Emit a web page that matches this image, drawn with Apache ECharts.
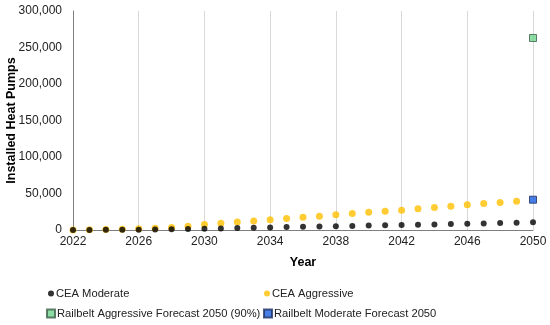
<!DOCTYPE html>
<html><head><meta charset="utf-8">
<script src="https://cdn.jsdelivr.net/npm/echarts@6/dist/echarts.min.js"></script>
<style>html,body{margin:0;padding:0;background:#fff}#c{width:550px;height:325px}</style>
</head><body><div id="c"></div>
<script>
const years = [2022,2023,2024,2025,2026,2027,2028,2029,2030,2031,2032,2033,2034,2035,2036,2037,2038,2039,2040,2041,2042,2043,2044,2045,2046,2047,2048,2049,2050];
const ceaModerate = [0,100,200,300,500,700,1000,1300,1600,2200,2700,3100,3500,4000,4400,4800,5200,5600,6000,6400,6800,7200,7700,8100,8600,9000,9500,10000,10500];
const ceaAggressive = [0,300,700,1100,1600,2300,3400,5000,7400,9300,10800,12200,14000,15800,17500,19000,20800,22600,24200,25600,27200,29000,30800,32600,34500,36300,37800,39500,null];
const aggressiveForecastYear = [2050];
const aggressiveForecast = [263000];
const moderateForecastYear = [2050];
const moderateForecast = [41500];
const yTicks = [0,50000,100000,150000,200000,250000,300000];

const font = '"Liberation Sans", Arial, sans-serif';
const chart = echarts.init(document.getElementById('c'), null, {renderer:'canvas'});
function legendAt(name, left, top, icon, size) {
  return {data:[{name:name, icon:icon}], left:left, top:top, itemWidth:size, itemHeight:size, itemGap:0,
    textStyle:{fontFamily:font, fontSize:11.2, color:'#222', padding:[0,0,0,-3]}, padding:0, selectedMode:false};
}
chart.setOption({
  animation:false,
  grid:{left:73, right:17, top:11, bottom:95, containLabel:false, outerBoundsMode:'none'},
  xAxis:{type:'value', min:2022, max:2050, interval:4, name:'Year', nameLocation:'middle', nameGap:26, nameMoveOverlap:false,
    nameTextStyle:{fontFamily:font, fontWeight:'bold', fontSize:12.5, color:'#000'},
    axisLine:{show:true, lineStyle:{color:'#7f7f7f', width:1}}, axisTick:{show:false},
    axisLabel:{fontFamily:font, fontSize:12, color:'#222', margin:6, formatter:v=>String(v)},
    splitLine:{show:true, lineStyle:{color:'#d9d9d9', width:1}}},
  yAxis:{type:'value', min:0, max:300000, interval:50000, name:'Installed Heat Pumps', nameLocation:'middle', nameGap:55, nameMoveOverlap:false,
    nameTextStyle:{fontFamily:font, fontWeight:'bold', fontSize:12.5, color:'#000'},
    axisLine:{show:true, lineStyle:{color:'#7f7f7f', width:1}}, axisTick:{show:false},
    axisLabel:{fontFamily:font, fontSize:12, color:'#222', margin:11,
      formatter:v=>yTicks.includes(v)?v.toLocaleString('en-US'):''},
    splitLine:{show:false}},
  legend:[
    legendAt('CEA Moderate', 48, 288, 'circle', 6),
    legendAt('CEA Aggressive', 264, 288, 'circle', 6),
    legendAt('Railbelt Aggressive Forecast 2050 (90%)', 46, 308, 'rect', 8),
    legendAt('Railbelt Moderate Forecast 2050', 263, 308, 'rect', 8)
  ],
  series:[
    {name:'CEA Moderate', type:'scatter', symbol:'circle', symbolSize:6, itemStyle:{color:'#000'},
      data:years.map((y,i)=>[y, ceaModerate[i]]), z:3},
    {name:'CEA Aggressive', type:'scatter', symbol:'circle', symbolSize:7, itemStyle:{color:'#ffc000'},
      data:years.map((y,i)=>[y, ceaAggressive[i]]).filter(d=>d[1]!==null), z:2},
    {name:'Railbelt Aggressive Forecast 2050 (90%)', type:'scatter', symbol:'rect', symbolSize:7,
      itemStyle:{color:'#6fd68d', borderColor:'#3f5f4a', borderWidth:1},
      data:aggressiveForecastYear.map((y,i)=>[y, aggressiveForecast[i]]), z:4},
    {name:'Railbelt Moderate Forecast 2050', type:'scatter', symbol:'rect', symbolSize:7,
      itemStyle:{color:'#1a5fe0', borderColor:'#1f3060', borderWidth:1},
      data:moderateForecastYear.map((y,i)=>[y, moderateForecast[i]]), z:4}
  ]
});
</script></body></html>
